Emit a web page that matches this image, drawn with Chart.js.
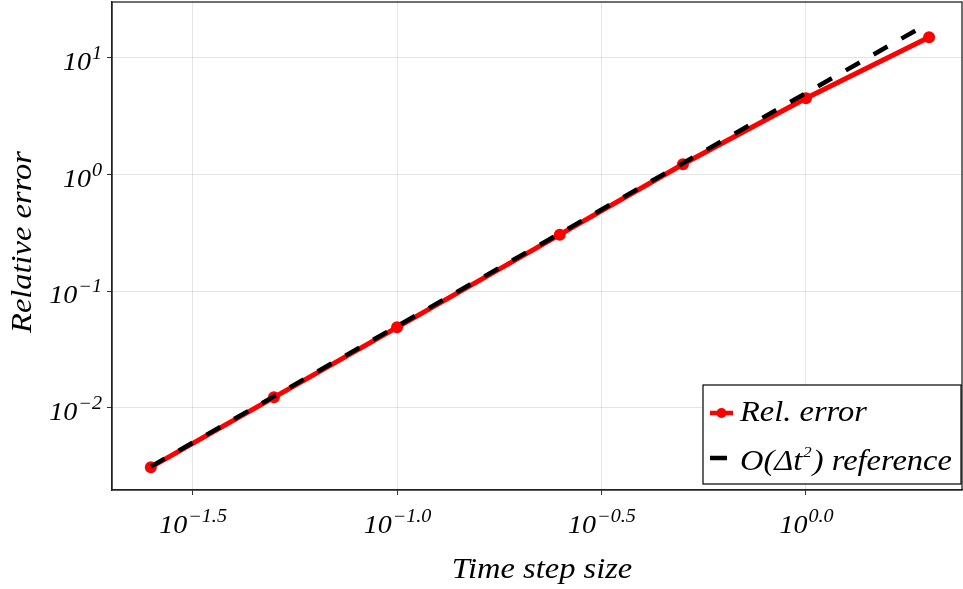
<!DOCTYPE html>
<html>
<head>
<meta charset="utf-8">
<script src="https://cdn.jsdelivr.net/npm/chart.js@4"></script>
<style>
  html, body { margin: 0; padding: 0; background: #fff; }
  #wrap { width: 963px; height: 589px; }
</style>
</head>
<body>
<div id="wrap"><canvas id="errChart" width="963" height="589"></canvas></div>
<script>
// data
const timeSteps = [0.025, 0.05, 0.1, 0.25, 0.5, 1, 2];
const relError = [0.00309, 0.01227, 0.0489, 0.305, 1.225, 4.51, 15.06];
const refError = [0.003125, 0.0125, 0.05, 0.3125, 1.25, 5, 20];

// tick exponents (base 10)
const xTickExp = [-1.5, -1.0, -0.5, 0.0];
const yTickExp = [-2, -1, 0, 1];
const xTickText = ["\u22121.5", "\u22121.0", "\u22120.5", "0.0"];
const yTickText = ["\u22122", "\u22121", "0", "1"];

const xLabel = "Time step size";
const yLabel = "Relative error";
const legendNames = ["Rel. error", "reference"];

const FONT = "'Liberation Serif', 'DejaVu Serif', serif";
const STRETCH = 1.12;

function pow10(e) { return Math.pow(10, e); }

// text drawn a bit wider so it matches the LaTeX-like original
function wideText(ctx, text, x, y, size) {
    ctx.font = "italic " + size + "px " + FONT;
    ctx.save();
    ctx.translate(x, y);
    ctx.scale(STRETCH, 1);
    ctx.fillText(text, 0, 0);
    ctx.restore();
    return ctx.measureText(text).width * STRETCH;
}

function textWidth(ctx, text, size) {
    ctx.font = "italic " + size + "px " + FONT;
    return ctx.measureText(text).width * STRETCH;
}

function drawPower(ctx, x, y, exp, align) {
    const wb = textWidth(ctx, "10", 25);
    const we = textWidth(ctx, exp, 18);
    let left = x;
    if (align === "center") left = x - (wb + we) / 2;
    if (align === "right") left = x - (wb + we);
    ctx.textAlign = "left";
    ctx.textBaseline = "alphabetic";
    wideText(ctx, "10", left, y, 25);
    wideText(ctx, exp, left + wb + 1, y - 11, 18);
}

const decorPlugin = {
    id: "decor",
    afterDraw(chart) {
        const ctx = chart.ctx;
        const area = chart.chartArea;
        const xs = chart.scales.x, ys = chart.scales.y;
        ctx.save();
        // frame
        ctx.strokeStyle = "#222";
        ctx.lineWidth = 1.3;
        ctx.strokeRect(area.left, area.top, area.right - area.left, area.bottom - area.top);

        ctx.fillStyle = "#000";
        xTickExp.forEach((e, i) => {
            const px = xs.getPixelForValue(pow10(e));
            drawPower(ctx, px, 533, xTickText[i], "center");
        });
        yTickExp.forEach((e, i) => {
            const py = ys.getPixelForValue(pow10(e));
            drawPower(ctx, 101, py + 12, yTickText[i], "right");
        });

        // axis titles
        ctx.textAlign = "left";
        ctx.textBaseline = "alphabetic";
        const wx = textWidth(ctx, xLabel, 29);
        wideText(ctx, xLabel, (area.left + area.right) / 2 + 5 - wx / 2, 578, 29);
        const wy = textWidth(ctx, yLabel, 29);
        ctx.save();
        ctx.translate(31, (area.top + area.bottom) / 2 - 4);
        ctx.rotate(-Math.PI / 2);
        wideText(ctx, yLabel, -wy / 2, 0, 29);
        ctx.restore();

        // legend
        const lx = 703, ly = 385, lw = 258, lh = 99;
        ctx.fillStyle = "#fff";
        ctx.fillRect(lx, ly, lw, lh);
        ctx.strokeStyle = "#000";
        ctx.lineWidth = 1.2;
        ctx.strokeRect(lx, ly, lw, lh);

        ctx.strokeStyle = "red";
        ctx.lineWidth = 4.5;
        ctx.beginPath();
        ctx.moveTo(710, 413);
        ctx.lineTo(733, 413);
        ctx.stroke();
        ctx.fillStyle = "red";
        ctx.beginPath();
        ctx.arc(721.5, 413, 5, 0, Math.PI * 2);
        ctx.fill();
        ctx.fillStyle = "#000";
        wideText(ctx, legendNames[0], 740, 421, 29);

        ctx.strokeStyle = "#000";
        ctx.lineWidth = 4.5;
        ctx.beginPath();
        ctx.moveTo(710, 458);
        ctx.lineTo(727, 458);
        ctx.stroke();
        let tx = 740;
        tx += wideText(ctx, "O(\u0394t", tx, 470, 29) + 1;
        tx += wideText(ctx, "2", tx, 457, 15) + 1;
        wideText(ctx, ") " + legendNames[1], tx, 470, 29);
        ctx.restore();
    }
};

new Chart(document.getElementById("errChart"), {
    type: "line",
    data: {
        datasets: [
            {
                label: "Rel. error",
                data: timeSteps.map((t, i) => ({ x: t, y: relError[i] })),
                borderColor: "red",
                backgroundColor: "red",
                borderWidth: 5,
                pointRadius: 6,
                pointBorderWidth: 0,
                pointBackgroundColor: "red",
                tension: 0,
                order: 2
            },
            {
                label: "O(\u0394t\u00b2) reference",
                data: timeSteps.map((t, i) => ({ x: t, y: refError[i] })),
                borderColor: "#000",
                borderWidth: 4.5,
                borderDash: [16, 16],
                borderCapStyle: "butt",
                pointRadius: 0,
                tension: 0,
                order: 1
            }
        ]
    },
    options: {
        responsive: false,
        animation: false,
        devicePixelRatio: 1,
        layout: { autoPadding: false, padding: { top: 2, left: 0, right: 1, bottom: 0 } },
        plugins: { legend: { display: false }, tooltip: { enabled: false } },
        scales: {
            x: {
                type: "logarithmic",
                min: pow10(-1.697),
                max: pow10(0.3815),
                afterBuildTicks: s => { s.ticks = xTickExp.map(e => ({ value: pow10(e) })); },
                afterFit: s => { s.height = 99; },
                ticks: { display: false },
                grid: { color: "rgba(0,0,0,0.1)", tickColor: "#333", tickLength: 5, lineWidth: 1 },
                border: { color: "#222", width: 1.3 }
            },
            y: {
                type: "logarithmic",
                min: pow10(-2.706),
                max: pow10(1.48),
                afterBuildTicks: s => { s.ticks = yTickExp.map(e => ({ value: pow10(e) })); },
                afterFit: s => { s.width = 112; },
                ticks: { display: false },
                grid: { color: "rgba(0,0,0,0.1)", tickColor: "#333", tickLength: 5, lineWidth: 1 },
                border: { color: "#222", width: 1.3 }
            }
        }
    },
    plugins: [decorPlugin]
});
</script>
</body>
</html>
